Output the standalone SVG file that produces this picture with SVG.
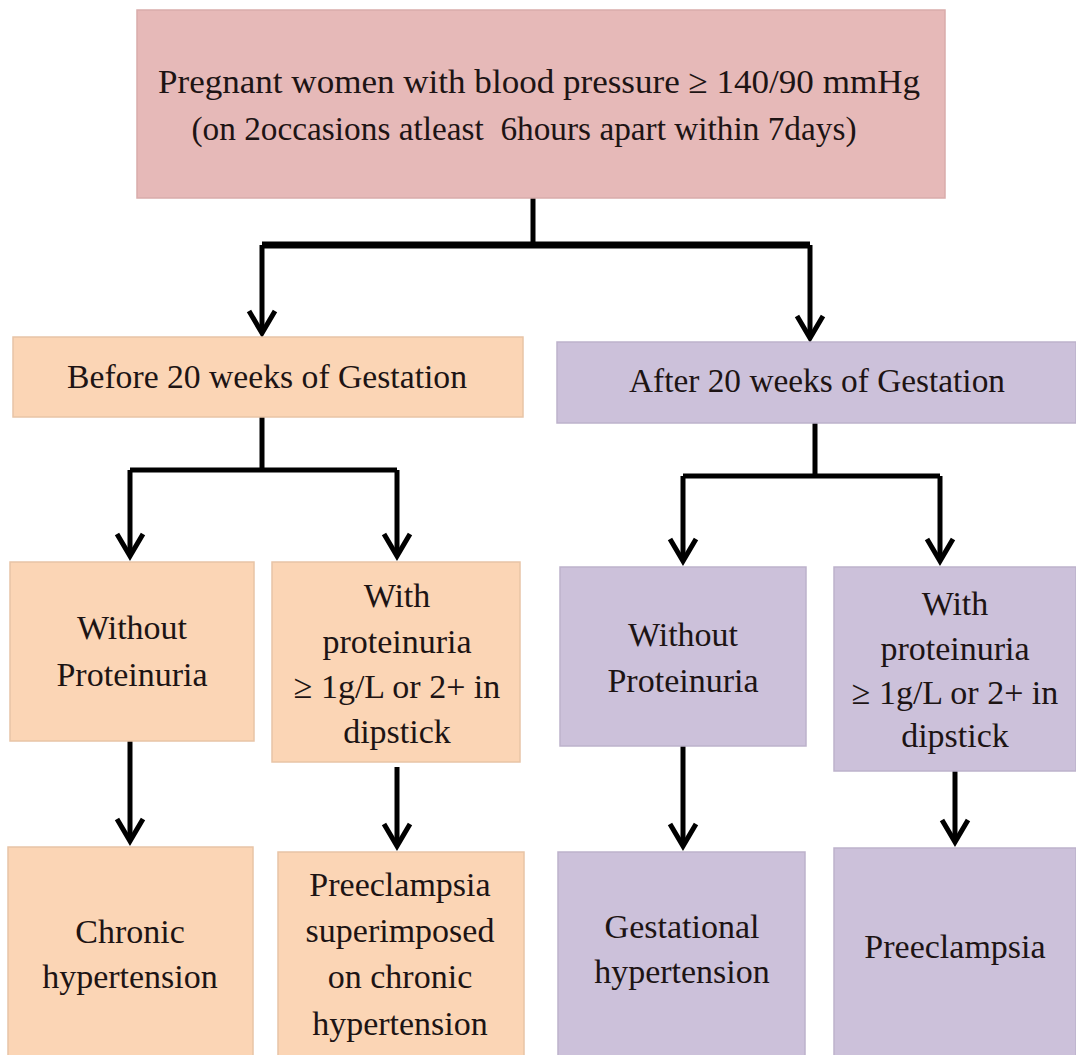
<svg xmlns="http://www.w3.org/2000/svg" width="1076" height="1055" viewBox="0 0 1076 1055">
  <defs>
    <marker id="head" markerUnits="userSpaceOnUse" markerWidth="40" markerHeight="40" refX="0" refY="0" orient="auto" overflow="visible">
      <path d="M-22,-13 L0,0 L-22,13" fill="none" stroke="#000" stroke-width="5" stroke-linejoin="miter"/>
    </marker>
  </defs>
  <rect width="1076" height="1055" fill="#ffffff"/>

  <!-- connectors: elbow wires plus arrowed drops -->
  <g id="connectors" fill="none" stroke="#000" stroke-width="5">
    <path d="M533,198 V245"/>
    <path d="M262,245 H810" stroke-width="7"/>
    <path d="M262,417 V470 M130,470 H397"/>
    <path d="M815,423 V476 M683,476 H940"/>
    <g marker-end="url(#head)">
      <path d="M262,245 V333"/>
      <path d="M810,245 V338"/>
      <path d="M130,470 V556"/>
      <path d="M397,470 V556"/>
      <path d="M683,476 V561"/>
      <path d="M940,476 V561"/>
      <path d="M130,741 V841"/>
      <path d="M397,767 V846"/>
      <path d="M683,746 V846"/>
      <path d="M955,771 V842"/>
    </g>
  </g>

  <!-- boxes and their labels -->
  <g id="nodes" font-size="34" text-anchor="middle" stroke-width="1.5">
    <g id="node-root">
      <rect x="137" y="10" width="808" height="188" fill="#e6b9b8" stroke="#d9acab"/>
      <text font-family="Liberation Serif" fill="#1d1414" stroke="none" x="539" y="93" textLength="762" lengthAdjust="spacingAndGlyphs">Pregnant women with blood pressure ≥ 140/90 mmHg</text>
      <text font-family="Liberation Serif" fill="#1d1414" stroke="none" x="524" y="140" textLength="665" lengthAdjust="spacingAndGlyphs" xml:space="preserve">(on 2occasions atleast  6hours apart within 7days)</text>
    </g>

    <g id="node-before">
      <rect x="13" y="337" width="510" height="80" fill="#fbd5b5" stroke="#e8c4a6"/>
      <text font-family="Liberation Serif" fill="#1d1414" stroke="none" x="267" y="388" textLength="400" lengthAdjust="spacingAndGlyphs">Before 20 weeks of Gestation</text>
    </g>

    <g id="node-after">
      <rect x="557" y="342" width="519" height="81" fill="#ccc1da" stroke="#bdb2cb"/>
      <text font-family="Liberation Serif" fill="#1d1414" stroke="none" x="817" y="392" textLength="376" lengthAdjust="spacingAndGlyphs">After 20 weeks of Gestation</text>
    </g>

    <g id="node-before-without">
      <rect x="10" y="562" width="244" height="179" fill="#fbd5b5" stroke="#e8c4a6"/>
      <text font-family="Liberation Serif" fill="#1d1414" stroke="none" x="132" y="639">Without</text>
      <text font-family="Liberation Serif" fill="#1d1414" stroke="none" x="132" y="686">Proteinuria</text>
    </g>

    <g id="node-before-with">
      <rect x="272" y="562" width="248" height="200" fill="#fbd5b5" stroke="#e8c4a6"/>
      <text font-family="Liberation Serif" fill="#1d1414" stroke="none" x="397" y="607">With</text>
      <text font-family="Liberation Serif" fill="#1d1414" stroke="none" x="397" y="653">proteinuria</text>
      <text font-family="Liberation Serif" fill="#1d1414" stroke="none" x="397" y="698">≥ 1g/L or 2+ in</text>
      <text font-family="Liberation Serif" fill="#1d1414" stroke="none" x="397" y="743">dipstick</text>
    </g>

    <g id="node-after-without">
      <rect x="560" y="567" width="246" height="179" fill="#ccc1da" stroke="#bdb2cb"/>
      <text font-family="Liberation Serif" fill="#1d1414" stroke="none" x="683" y="646">Without</text>
      <text font-family="Liberation Serif" fill="#1d1414" stroke="none" x="683" y="692">Proteinuria</text>
    </g>

    <g id="node-after-with">
      <rect x="834" y="567" width="242" height="204" fill="#ccc1da" stroke="#bdb2cb"/>
      <text font-family="Liberation Serif" fill="#1d1414" stroke="none" x="955" y="615">With</text>
      <text font-family="Liberation Serif" fill="#1d1414" stroke="none" x="955" y="660">proteinuria</text>
      <text font-family="Liberation Serif" fill="#1d1414" stroke="none" x="955" y="704">≥ 1g/L or 2+ in</text>
      <text font-family="Liberation Serif" fill="#1d1414" stroke="none" x="955" y="747">dipstick</text>
    </g>

    <g id="node-chronic">
      <rect x="8" y="847" width="245" height="215" fill="#fbd5b5" stroke="#e8c4a6"/>
      <text font-family="Liberation Serif" fill="#1d1414" stroke="none" x="130" y="943">Chronic</text>
      <text font-family="Liberation Serif" fill="#1d1414" stroke="none" x="130" y="988">hypertension</text>
    </g>

    <g id="node-superimposed">
      <rect x="278" y="852" width="246" height="210" fill="#fbd5b5" stroke="#e8c4a6"/>
      <text font-family="Liberation Serif" fill="#1d1414" stroke="none" x="400" y="896">Preeclampsia</text>
      <text font-family="Liberation Serif" fill="#1d1414" stroke="none" x="400" y="942">superimposed</text>
      <text font-family="Liberation Serif" fill="#1d1414" stroke="none" x="400" y="988">on chronic</text>
      <text font-family="Liberation Serif" fill="#1d1414" stroke="none" x="400" y="1035">hypertension</text>
    </g>

    <g id="node-gestational">
      <rect x="558" y="852" width="247" height="210" fill="#ccc1da" stroke="#bdb2cb"/>
      <text font-family="Liberation Serif" fill="#1d1414" stroke="none" x="682" y="938">Gestational</text>
      <text font-family="Liberation Serif" fill="#1d1414" stroke="none" x="682" y="983">hypertension</text>
    </g>

    <g id="node-preeclampsia">
      <rect x="834" y="848" width="242" height="214" fill="#ccc1da" stroke="#bdb2cb"/>
      <text font-family="Liberation Serif" fill="#1d1414" stroke="none" x="955" y="958">Preeclampsia</text>
    </g>
  </g>
</svg>
